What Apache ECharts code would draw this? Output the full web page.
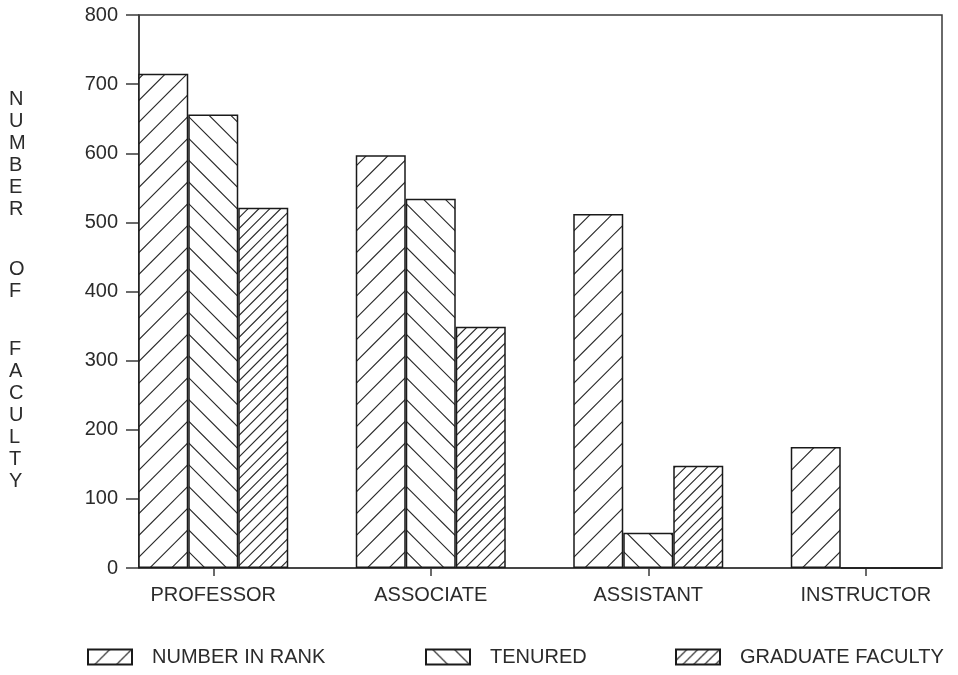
<!DOCTYPE html>
<html>
<head>
<meta charset="utf-8">
<script src="https://cdn.jsdelivr.net/npm/echarts@6/dist/echarts.min.js"></script>
<style>
html,body{margin:0;padding:0;background:#fff;}
#c{width:958px;height:675px;}
</style>
</head>
<body>
<div id="c"></div>
<script>
// ---- data ----
const categories = ['PROFESSOR', 'ASSOCIATE', 'ASSISTANT', 'INSTRUCTOR'];
const seriesNames = ['NUMBER IN RANK', 'TENURED', 'GRADUATE FACULTY'];
const numberInRank = [715, 597, 512, 175];
const tenured = [656, 534, 51, 0];
const graduateFaculty = [521, 349, 148, 0];
const yTicks = [0, 100, 200, 300, 400, 500, 600, 700, 800];

// ---- hatch patterns ----
const TILE = 87, P = 21.75;
function makePattern(kind) {
  const cv = document.createElement('canvas');
  cv.width = TILE; cv.height = TILE;
  const ctx = cv.getContext('2d');
  ctx.fillStyle = '#fff';
  ctx.fillRect(0, 0, TILE, TILE);
  ctx.strokeStyle = '#2a2a2a';
  ctx.lineWidth = 1.2;
  ctx.beginPath();
  if (kind === 'rank' || kind === 'grad') {
    const step = kind === 'rank' ? P : P / 2;
    for (let c = -step; c <= 2 * TILE + step; c += step) {
      ctx.moveTo(c + 10, -10);
      ctx.lineTo(c - TILE - 10, TILE + 10);
    }
  } else {
    const t = 15;
    for (let d = t - 5 * P; d <= TILE + P; d += P) {
      ctx.moveTo(-10, d - 10);
      ctx.lineTo(TILE + 10, d + TILE + 10);
    }
  }
  ctx.stroke();
  return { image: cv, repeat: 'repeat' };
}
const fills = [makePattern('rank'), makePattern('ten'), makePattern('grad')];

const FONT = 'Liberation Sans, Arial, Helvetica, sans-serif';
const TXT = '#2b2b2b';
const LINE = '#3a3a3a';

const chart = echarts.init(document.getElementById('c'), null, { renderer: 'canvas' });

const seriesData = [numberInRank, tenured, graduateFaculty];
const series = seriesNames.map((n, i) => ({
  name: n,
  type: 'bar',
  xAxisIndex: 0,
  yAxisIndex: 0,
  barWidth: 50,
  barGap: '0%',
  data: seriesData[i],
  itemStyle: { color: fills[i], borderColor: '#1a1a1a', borderWidth: 1.5 },
  emphasis: { disabled: true },
  silent: true
}));

const legendLefts = [87, 425, 675];
const legends = seriesNames.map((n, i) => ({
  data: [n],
  left: legendLefts[i],
  top: 647,
  padding: 0,
  icon: 'rect',
  itemWidth: 44,
  itemHeight: 15,
  selectedMode: false,
  textStyle: { fontFamily: FONT, fontSize: 20, color: TXT, padding: [0, 0, 0, 15] }
}));

function vtext(str, top) {
  return {
    type: 'text',
    left: 9,
    top: top,
    style: {
      text: str.split('').join('\n'),
      fontFamily: FONT,
      fontSize: 20,
      lineHeight: 22,
      fill: TXT,
      align: 'center'
    }
  };
}

chart.setOption({
  animation: false,
  backgroundColor: '#fff',
  grid: [
    { left: 104.5, width: 870, top: 15, bottom: 107, show: false, outerBoundsMode: 'none', containLabel: false },
    { left: 139, right: 16, top: 15, bottom: 107, show: true, borderColor: LINE, borderWidth: 1.5, backgroundColor: 'transparent', outerBoundsMode: 'none', containLabel: false }
  ],
  xAxis: [
    {
      gridIndex: 0, type: 'category', data: categories,
      axisLine: { show: false },
      axisTick: { show: true, alignWithLabel: true, length: 8, lineStyle: { color: LINE, width: 1.5 } },
      axisLabel: { fontFamily: FONT, fontSize: 20, color: TXT, margin: 17 },
      splitLine: { show: false }
    },
    {
      gridIndex: 1, type: 'value', min: 0, max: 1,
      axisLine: { show: true, lineStyle: { color: LINE, width: 1.5 } },
      axisTick: { show: false }, axisLabel: { show: false }, splitLine: { show: false }
    }
  ],
  yAxis: [
    { gridIndex: 0, type: 'value', min: 0, max: 800, interval: 100, show: false },
    {
      gridIndex: 1, type: 'value', min: yTicks[0], max: yTicks[yTicks.length - 1], interval: 100,
      axisLine: { show: true, lineStyle: { color: LINE, width: 1.5 } },
      axisTick: { show: true, inside: false, length: 13, lineStyle: { color: LINE, width: 1.5 } },
      axisLabel: { fontFamily: FONT, fontSize: 20, color: TXT, margin: 21 },
      splitLine: { show: false }
    }
  ],
  legend: legends,
  series: series,
  graphic: [
    vtext('NUMBER', 88),
    vtext('OF', 258),
    vtext('FACULTY', 338)
  ]
});
</script>
</body>
</html>
